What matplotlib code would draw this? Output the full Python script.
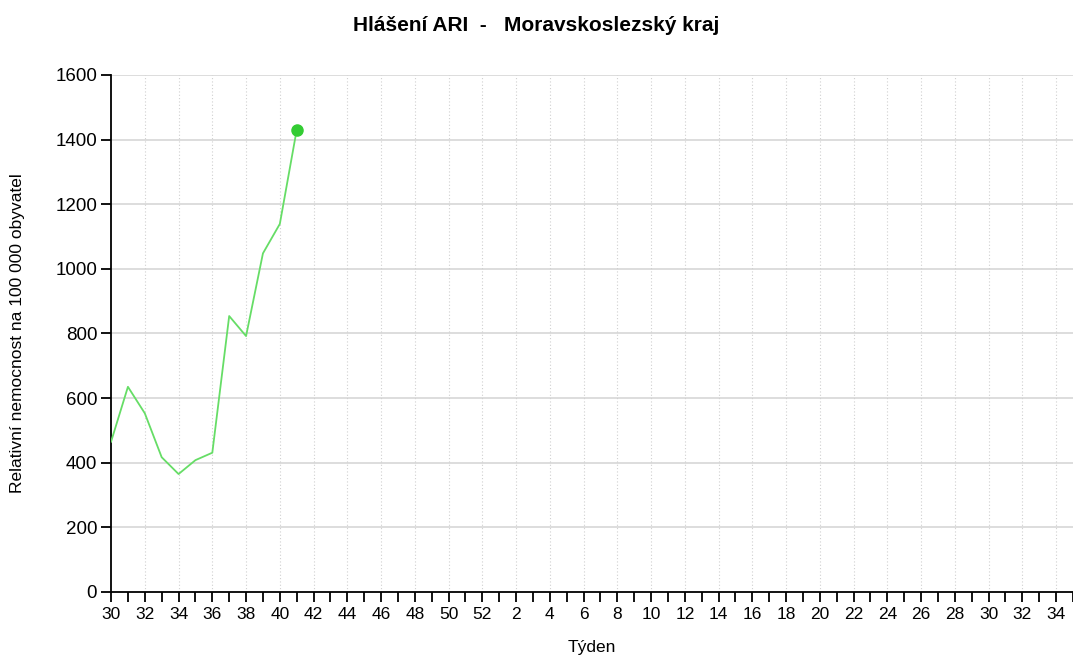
import matplotlib
matplotlib.use("Agg")
import matplotlib.pyplot as plt

plt.rcParams['font.family'] = ['Liberation Sans', 'DejaVu Sans']

# osa x: týdny 30..52 a pak 1..35 dalšího roku
tydny = list(range(30, 53)) + list(range(1, 36))
# hodnoty nemocnosti (týden 30 až 41)
hodnoty = [465, 635, 553, 417, 365, 408, 431, 854, 792, 1048, 1139, 1430]

fig = plt.figure(figsize=(10.73, 6.59), dpi=100)
ax = fig.add_axes([0.1035, 0.1017, 0.8965, 0.7845])

x = list(range(len(hodnoty)))
ax.plot(x, hodnoty, color='#66dd66', linewidth=1.3, zorder=3)
ax.plot(x[-1], hodnoty[-1], 'o', color='#33cc33', markersize=8, zorder=4)

ax.set_xlim(0, 56.7)
ax.set_ylim(0, 1600)
ax.set_yticks(range(0, 1601, 200))

pozice = list(range(len(tydny)))
ax.set_xticks(pozice)
ax.set_xticklabels([str(t) if i % 2 == 0 else '' for i, t in enumerate(tydny)])

# mřížka
for v in range(200, 1601, 200):
    ax.axhline(v, color='#dadada', linewidth=1.3, zorder=1)
for i in range(2, len(tydny), 2):
    ax.axvline(i, color='#d0d0d0', linewidth=0.8, linestyle=(0, (1, 2)), zorder=1)

for s in ['top', 'right']:
    ax.spines[s].set_visible(False)
ax.spines['left'].set_linewidth(1.3)
ax.spines['bottom'].set_linewidth(1.3)
ax.tick_params(axis='x', direction='out', length=7, width=1.3, labelsize=12.5, pad=4)
ax.tick_params(axis='y', direction='out', length=7, width=1.3, labelsize=13.5, pad=3)

ax.set_ylabel('Relativní nemocnost na 100 000 obyvatel', fontsize=12.5, labelpad=22)
ax.set_xlabel('Týden', fontsize=12.5, labelpad=13)
fig.suptitle('Hlášení ARI  -   Moravskoslezský kraj', fontsize=15, fontweight='bold', y=0.975)

fig.savefig('out.png', dpi=100)
